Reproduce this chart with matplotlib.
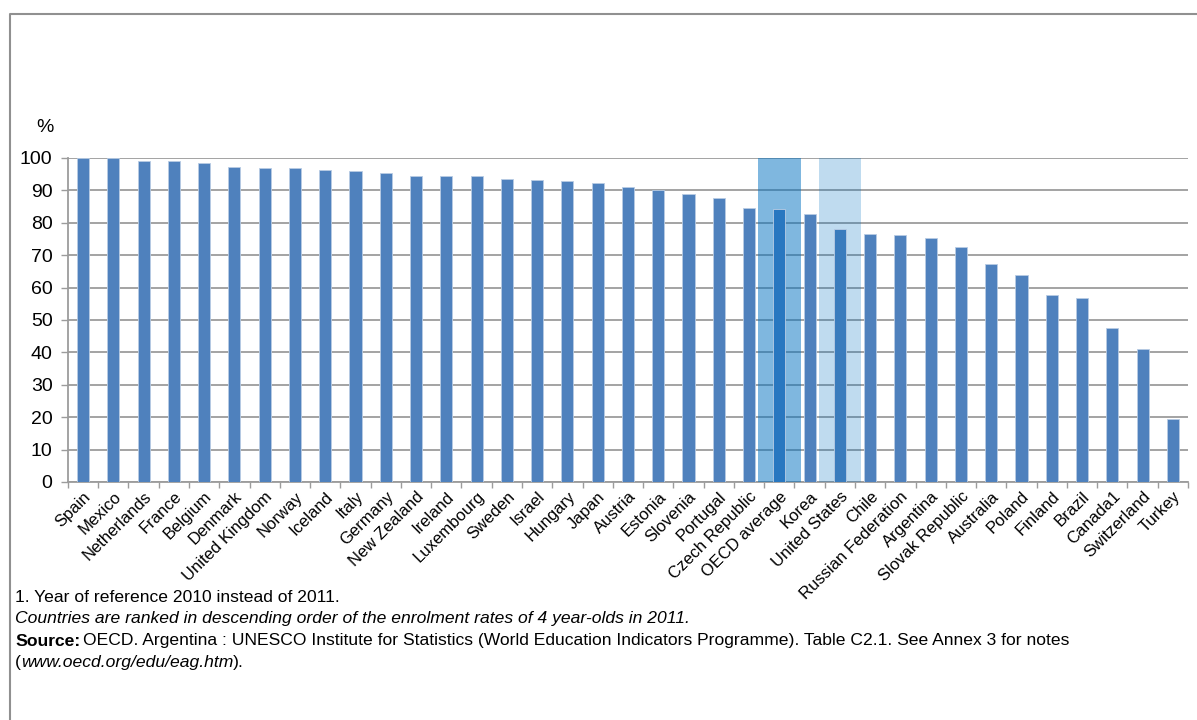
import matplotlib.pyplot as plt
import numpy as np
from matplotlib.lines import Line2D

countries = ["Spain", "Mexico", "Netherlands", "France", "Belgium", "Denmark",
             "United Kingdom", "Norway", "Iceland", "Italy", "Germany", "New Zealand",
             "Ireland", "Luxembourg", "Sweden", "Israel", "Hungary", "Japan", "Austria",
             "Estonia", "Slovenia", "Portugal", "Czech Republic", "OECD average", "Korea",
             "United States", "Chile", "Russian Federation", "Argentina", "Slovak Republic",
             "Australia", "Poland", "Finland", "Brazil", "Canada1", "Switzerland", "Turkey"]
rates = [100.0, 99.9, 99.2, 99.2, 98.5, 97.2, 96.8, 96.8, 96.4, 96.0, 95.3, 94.4,
         94.4, 94.4, 93.6, 93.1, 92.8, 92.3, 91.1, 90.1, 88.8, 87.6, 84.7, 84.3, 82.7,
         78.2, 76.6, 76.2, 75.4, 72.5, 67.3, 64.0, 57.6, 56.8, 47.4, 40.9, 19.4]
yticks = list(range(0, 101, 10))

plt.rcParams["font.family"] = ["Liberation Sans", "DejaVu Sans"]
note_font = ["Liberation Sans", "DejaVu Sans"]

fig = plt.figure(figsize=(11.97, 7.2), dpi=100)
fig.patch.set_facecolor("white")
ax = fig.add_axes([0.0567, 0.3306, 0.9358, 0.45])

x = np.arange(len(countries))
i_oecd = countries.index("OECD average")
i_us = countries.index("United States")

# highlight bands behind OECD average and United States
ax.bar(i_oecd, 100, width=1.41, color="#0070c0", alpha=0.5, zorder=3, linewidth=0)
ax.bar(i_us, 100, width=1.41, color="#0070c0", alpha=0.25, zorder=3, linewidth=0)

colors = ["#4f81bd"] * len(countries)
colors[i_oecd] = "#2877c0"
colors[i_us] = "#3a7cbd"
ax.bar(x, rates, width=0.4, color=colors, edgecolor="#b8cce4", linewidth=0.6, zorder=4)

ax.set_xlim(-0.5, len(countries) - 0.5)
ax.set_ylim(0, 100)
ax.set_yticks(yticks)
ax.yaxis.grid(True, color="#9c9c9c", linewidth=1.3, zorder=2)
ax.set_axisbelow(True)
ax.tick_params(axis="y", labelsize=14, length=5, width=1, color="#9c9c9c", pad=6)

ax.set_xticks(x)
ax.set_xticklabels(countries, rotation=45, ha="right", rotation_mode="anchor", fontsize=12)
ax.tick_params(axis="x", length=0, pad=5)
ax.set_xticks(np.arange(-0.5, len(countries), 1), minor=True)
ax.tick_params(axis="x", which="minor", length=4, width=1, color="#9c9c9c")

for s in ["top", "right"]:
    ax.spines[s].set_visible(False)
for s in ["left", "bottom"]:
    ax.spines[s].set_color("#9c9c9c")
    ax.spines[s].set_linewidth(1.3)

fig.text(45 / 1197, 1 - 127 / 720, "%", fontsize=14, ha="center", va="center")

# outer frame (left and top edges)
fig.add_artist(Line2D([10 / 1197, 10 / 1197, 1.0], [0.0, 1 - 14 / 720, 1 - 14 / 720],
                      transform=fig.transFigure, color="#909090", linewidth=1.5))

# notes
fs = 12.6
x0 = 15 / 1197
fig.text(x0, 1 - 598 / 720, "1. Year of reference 2010 instead of 2011.",
         fontsize=fs, family=note_font, va="center")
fig.text(x0, 1 - 619 / 720,
         "Countries are ranked in descending order of the enrolment rates of 4 year-olds in 2011.",
         fontsize=fs, family=note_font, style="italic", va="center")

fig.canvas.draw()
r = fig.canvas.get_renderer()


def run_text(y, parts):
    xpos = x0
    for txt, kw, gap in parts:
        t = fig.text(xpos, y, txt, fontsize=fs, family=note_font, va="center", **kw)
        bb = t.get_window_extent(renderer=r)
        xpos += (bb.width + gap) / fig.bbox.width


run_text(1 - 641 / 720, [("Source:", {"weight": "bold"}, 3),
                         ("OECD. Argentina : UNESCO Institute for Statistics (World Education "
                          "Indicators Programme). Table C2.1. See Annex 3 for notes", {}, 0)])
run_text(1 - 663 / 720, [("(", {}, 0), ("www.oecd.org/edu/eag.htm", {"style": "italic"}, 0),
                         (").", {}, 0)])

fig.savefig("out.png", dpi=100, facecolor="white")
